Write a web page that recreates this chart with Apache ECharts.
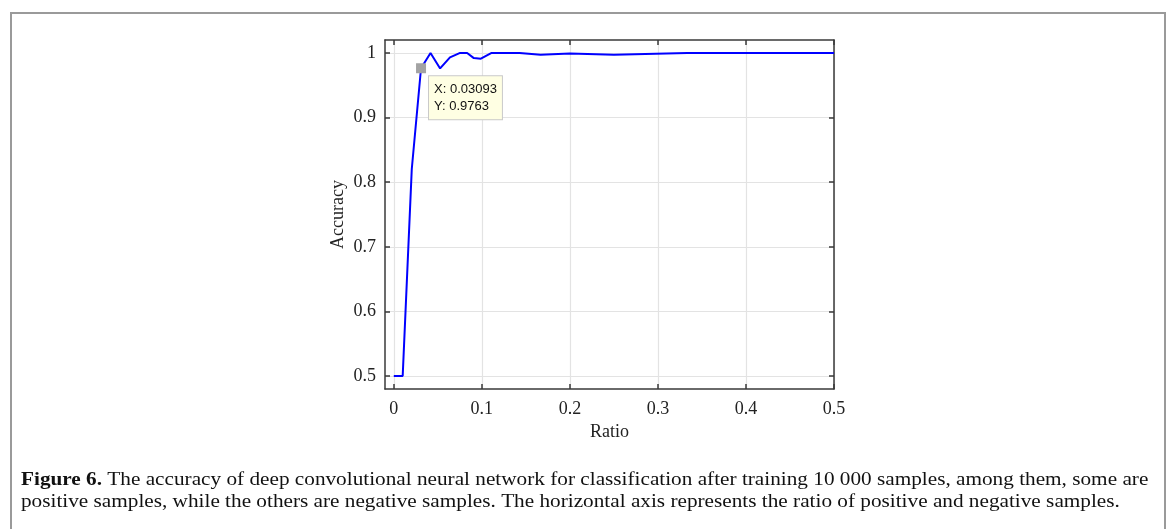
<!DOCTYPE html>
<html>
<head>
<meta charset="utf-8">
<script src="https://cdn.jsdelivr.net/npm/echarts@6/dist/echarts.min.js"></script>
<style>
html,body{margin:0;padding:0;background:#fff;}
#chart{width:1173px;height:529px;}
</style>
</head>
<body>
<div id="chart"></div>
<script>
// Data
const ratio    = [0, 0.0101, 0.0204, 0.03093, 0.0417, 0.0526, 0.0638, 0.0753, 0.0833, 0.0909, 0.0989, 0.1111, 0.1429, 0.1667, 0.2, 0.25, 0.3333, 0.5];
const accuracy = [0.5, 0.5, 0.82, 0.9763, 1.0, 0.976, 0.993, 1.0, 1.0, 0.992, 0.991, 1.0, 1.0, 0.997, 0.999, 0.997, 1.0, 1.0];
const xTicks = [0, 0.1, 0.2, 0.3, 0.4, 0.5];
const yTicks = [0.5, 0.6, 0.7, 0.8, 0.9, 1];
const dataTip = [0.03093, 0.9763];
const xName = 'Ratio';
const yName = 'Accuracy';
const captionBold = 'Figure 6.';
const captionLine1 = ' The accuracy of deep convolutional neural network for classification after training 10 000 samples, among them, some are';
const captionLine2 = 'positive samples, while the others are negative samples. The horizontal axis represents the ratio of positive and negative samples.';

const serif = '"Liberation Serif", "Times New Roman", serif';
const axisColor = '#3a3a3a';
const gridColor = '#e3e3e3';

const chart = echarts.init(document.getElementById('chart'), null, {renderer: 'canvas'});
const points = ratio.map((x, i) => [x, accuracy[i]]);

const baseX = {
  type: 'value', min: -0.01, max: 0.5,
  axisLine: {show: true, onZero: false, lineStyle: {color: axisColor, width: 1.5}},
  axisTick: {show: true, inside: true, length: 5, customValues: xTicks, lineStyle: {color: axisColor, width: 1.5}}
};
const baseY = {
  type: 'value', min: 0.48, max: 1.02,
  axisLine: {show: true, onZero: false, lineStyle: {color: axisColor, width: 1.5}},
  axisTick: {show: true, inside: true, length: 5, customValues: yTicks, lineStyle: {color: axisColor, width: 1.5}}
};

chart.setOption({
  animation: false,
  backgroundColor: '#fff',
  grid: {left: 385, right: 339, top: 40, bottom: 140, containLabel: false},
  xAxis: [
    Object.assign({}, baseX, {
      position: 'bottom',
      name: xName, nameLocation: 'middle', nameGap: 34,
      nameTextStyle: {fontFamily: serif, fontSize: 18, color: '#222'},
      axisLabel: {show: true, customValues: xTicks, margin: 11, fontFamily: serif, fontSize: 18, color: '#222',
        formatter: v => String(+v.toFixed(2))},
      splitLine: {show: true, lineStyle: {color: gridColor, width: 1.2}}
    }),
    Object.assign({}, baseX, {
      position: 'top',
      axisLabel: {show: false},
      splitLine: {show: false}
    })
  ],
  yAxis: [
    Object.assign({}, baseY, {
      position: 'left',
      name: yName, nameLocation: 'middle', nameGap: 38,
      nameTextStyle: {fontFamily: serif, fontSize: 18, color: '#222'},
      axisLabel: {show: true, customValues: yTicks, margin: 9, fontFamily: serif, fontSize: 18, color: '#222',
        formatter: v => String(+v.toFixed(2))},
      splitLine: {show: true, lineStyle: {color: gridColor, width: 1.2}}
    }),
    Object.assign({}, baseY, {
      position: 'right',
      axisLabel: {show: false},
      splitLine: {show: false}
    })
  ],
  series: [{
    type: 'line',
    data: points,
    xAxisIndex: 0, yAxisIndex: 0,
    showSymbol: false,
    lineStyle: {color: '#0000ff', width: 2},
    itemStyle: {color: '#0000ff'},
    markPoint: {
      symbol: 'rect',
      symbolSize: 10,
      itemStyle: {color: '#a3a3a3'},
      data: [{coord: dataTip}],
      label: {
        show: true,
        position: [13, 13],
        formatter: () => 'X: ' + dataTip[0] + '\nY: ' + dataTip[1],
        fontFamily: '"Liberation Sans", Arial, sans-serif',
        fontSize: 13,
        lineHeight: 17,
        color: '#111',
        align: 'left',
        verticalAlign: 'top',
        backgroundColor: '#ffffe3',
        borderColor: '#c9c9c9',
        borderWidth: 1,
        padding: [5, 5, 4, 5]
      }
    }
  }],
  graphic: [
    {
      type: 'rect', silent: true,
      shape: {x: 11, y: 13, width: 1154, height: 560},
      style: {fill: 'none', stroke: '#9a9a9a', lineWidth: 2}
    },
    {
      type: 'text', x: 21, y: 469, scaleX: 1.18, silent: true,
      style: {
        text: '{b|' + captionBold + '}' + captionLine1 + '\n' + captionLine2,
        font: '18px ' + serif,
        fill: '#111',
        lineHeight: 22,
        verticalAlign: 'top',
        align: 'left',
        rich: {b: {fontWeight: 'bold', fontFamily: serif, fontSize: 18, fill: '#111'}}
      }
    }
  ]
});
</script>
</body>
</html>
